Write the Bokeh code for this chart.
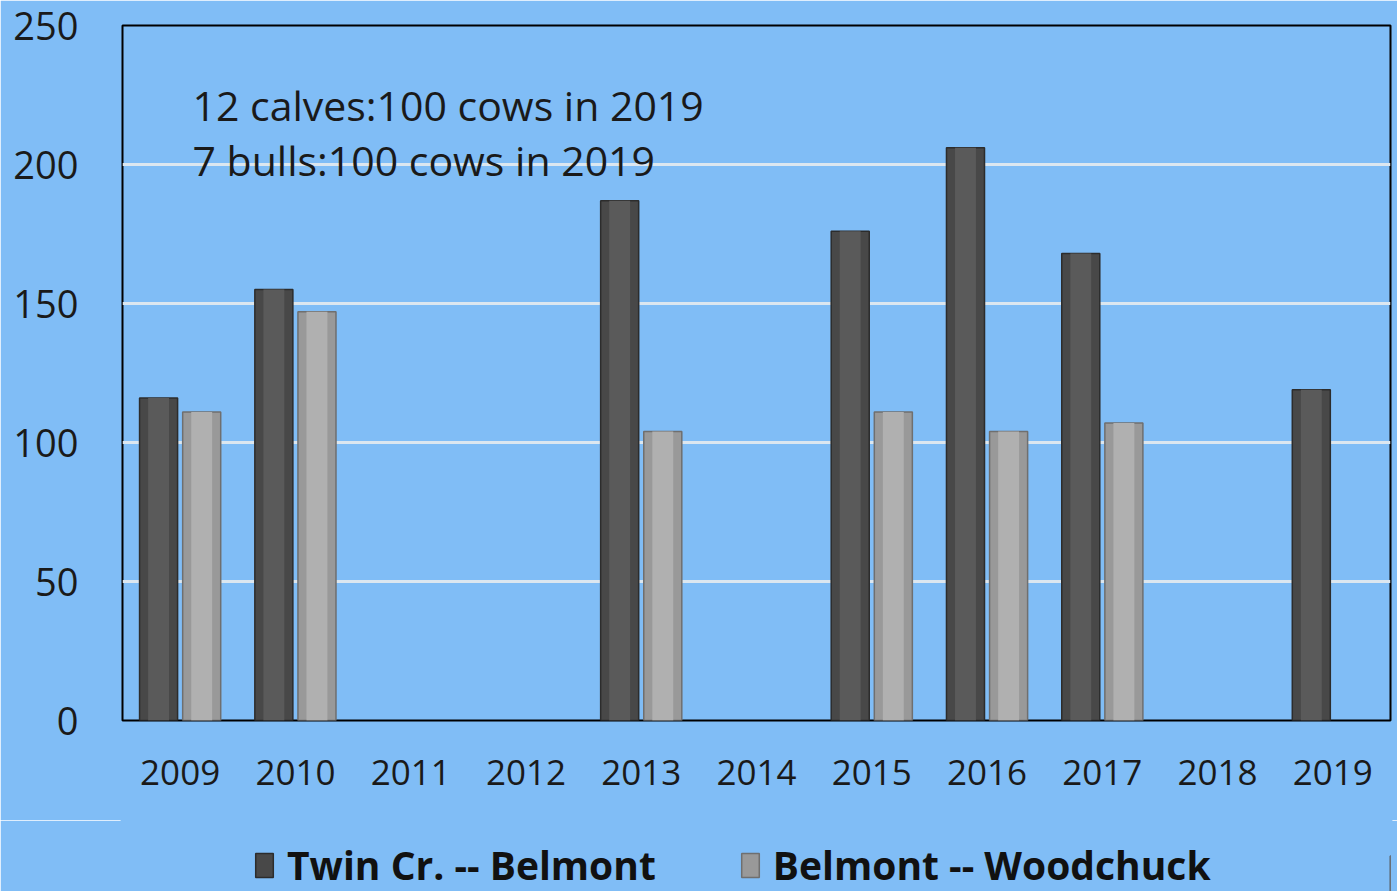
from bokeh.plotting import figure
from bokeh.layouts import column
from bokeh.models import FactorRange, Legend, LegendItem, Label, ColumnDataSource, FixedTicker
from bokeh.transform import dodge
from bokeh.embed import file_html
from bokeh.resources import INLINE

nan = float("nan")
years = ["2009", "2010", "2011", "2012", "2013", "2014", "2015", "2016", "2017", "2018", "2019"]
twin_belmont = [116, 155, nan, nan, 187, nan, 176, 206, 168, nan, 119]
belmont_woodchuck = [111, 147, nan, nan, 104, nan, 111, 104, 107, nan, nan]
y_ticks = [0, 50, 100, 150, 200, 250]
series_names = ["Twin Cr. -- Belmont", "Belmont -- Woodchuck"]
notes = ["12 calves:100 cows in 2019", "7 bulls:100 cows in 2019"]

BG = "#80BDF6"
DARK = dict(fill="#484848", inner="#5a5a5a", line="#2c2c2c")
LIGHT = dict(fill="#999999", inner="#b0b0b0", line="#6f6f6f")
src = ColumnDataSource(dict(year=years, a=twin_belmont, b=belmont_woodchuck))

p = figure(x_range=FactorRange(*years), y_range=(0, 250),
           width=1397, height=820, output_backend="svg", toolbar_location=None,
           min_border_left=122, min_border_right=7, min_border_top=25, min_border_bottom=100)
p.background_fill_color = BG
p.border_fill_color = BG
p.outline_line_color = "black"
p.outline_line_width = 2

p.xgrid.visible = False
p.ygrid.grid_line_color = "#DCE7F0"
p.ygrid.grid_line_width = 3
p.yaxis.ticker = FixedTicker(ticks=y_ticks)

for ax in (p.xaxis, p.yaxis):
    ax.axis_line_color = None
    ax.major_tick_line_color = None
    ax.minor_tick_line_color = None
    ax.major_label_text_font = "Open Sans"
    ax.major_label_text_color = "#1a1a1a"
p.yaxis.major_tick_out = 0
p.yaxis.minor_tick_out = 0
p.xaxis.major_label_text_font_size = "35px"
p.yaxis.major_label_text_font_size = "38px"
p.xaxis.major_label_standoff = 33
p.yaxis.major_label_standoff = 44

W = 0.33
OFF = 0.187
p.vbar(x=dodge("year", -OFF, range=p.x_range), top="a", bottom=0, width=W, source=src,
       fill_color=DARK["fill"], line_color=DARK["line"], line_width=1.5)
p.vbar(x=dodge("year", -OFF, range=p.x_range), top="a", bottom=0, width=W * 0.55, source=src,
       fill_color=DARK["inner"], line_color=None)
p.vbar(x=dodge("year", OFF, range=p.x_range), top="b", bottom=0, width=W, source=src,
       fill_color=LIGHT["fill"], line_color=LIGHT["line"], line_width=1.5)
p.vbar(x=dodge("year", OFF, range=p.x_range), top="b", bottom=0, width=W * 0.55, source=src,
       fill_color=LIGHT["inner"], line_color=None)

for txt, yv in zip(notes, [221.5, 201.5]):
    p.add_layout(Label(x=0.607, y=yv, text=txt, text_font="Open Sans", text_font_size="41px",
                       text_color="#1a1a1a", text_baseline="alphabetic"))

# legend strip below the chart (its frame is aligned with the chart frame by the column)
q = figure(x_range=(0, 1), y_range=(0, 1), width=1397, height=71, output_backend="svg",
           toolbar_location=None, min_border=0)
q.axis.visible = False
q.grid.visible = False
q.outline_line_color = BG
q.outline_line_width = 4
q.background_fill_color = BG
q.border_fill_color = BG
offscreen = ColumnDataSource(dict(x=[5], top=[0.5]))
g1 = q.vbar(x="x", top="top", width=0.1, source=offscreen,
            fill_color=DARK["fill"], line_color=DARK["line"], line_width=1.5)
g2 = q.vbar(x="x", top="top", width=0.1, source=offscreen,
            fill_color=LIGHT["fill"], line_color=LIGHT["line"], line_width=1.5)
legend = Legend(items=[LegendItem(label=series_names[0], renderers=[g1]),
                       LegendItem(label=series_names[1], renderers=[g2])],
                orientation="horizontal", location=(131, 0),
                padding=0, margin=0, spacing=83, glyph_width=22, glyph_height=30,
                label_standoff=12, label_text_font="Open Sans", label_text_font_style="bold",
                label_text_font_size="39px", label_text_color="#111111",
                border_line_color=None, background_fill_alpha=0)
q.add_layout(legend, "center")

layout = column(p, q, spacing=0)
open("out.html", "w").write(file_html(layout, INLINE))
